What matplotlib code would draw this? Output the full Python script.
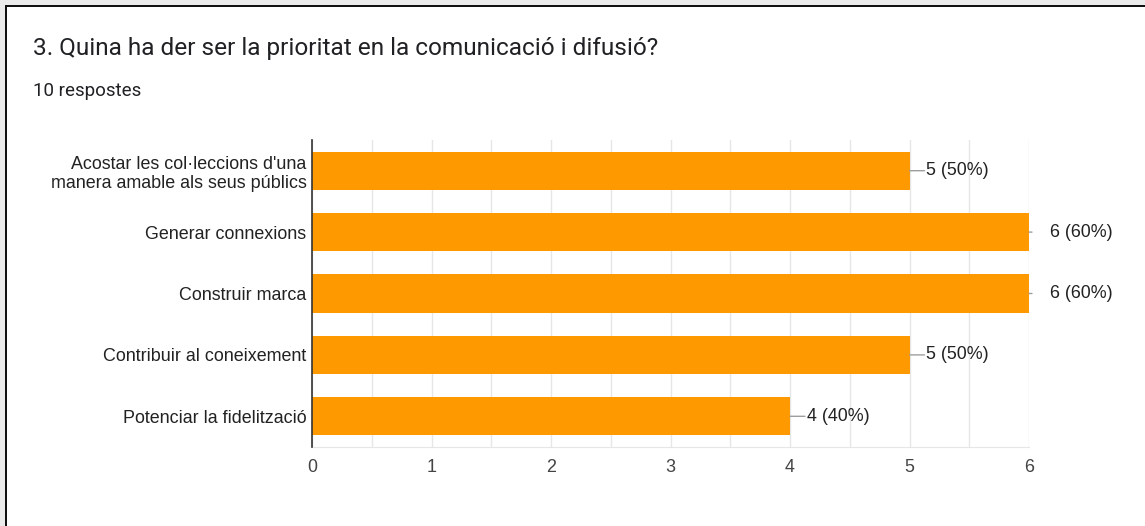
import matplotlib.pyplot as plt
from matplotlib.patches import Rectangle

# Respostes a la pregunta 3 (10 respostes en total)
categories = [
    "Acostar les col·leccions d'una\nmanera amable als seus públics",
    "Generar connexions",
    "Construir marca",
    "Contribuir al coneixement",
    "Potenciar la fidelització",
]
counts = [5, 6, 6, 5, 4]
total = 10
xticks = [0, 1, 2, 3, 4, 5, 6]

W, H = 1145, 526
fig = plt.figure(figsize=(W / 100, H / 100), dpi=100)
fig.patch.set_facecolor('white')

# marc de la captura: franja grisa i línia fosca a dalt i a l'esquerra
fig.patches.append(Rectangle((0, 1 - 5 / H), 1, 5 / H, transform=fig.transFigure,
                             facecolor='#ebebeb', edgecolor='none', zorder=0))
fig.patches.append(Rectangle((0, 0), 5 / W, 1, transform=fig.transFigure,
                             facecolor='#ebebeb', edgecolor='none', zorder=0))
fig.patches.append(Rectangle((5 / W, 1 - 7 / H), 1, 2 / H, transform=fig.transFigure,
                             facecolor='#111111', edgecolor='none', zorder=1))
fig.patches.append(Rectangle((5 / W, 0), 2 / W, 1 - 5 / H, transform=fig.transFigure,
                             facecolor='#111111', edgecolor='none', zorder=1))

fig.text(33 / W, 1 - 48 / H, "3. Quina ha der ser la prioritat en la comunicació i difusió?",
         fontsize=17.6, family='Roboto', color='#202124', va='center', ha='left')
fig.text(33 / W, 1 - 91 / H, "10 respostes", fontsize=13.5, family='Roboto',
         color='#202124', va='center', ha='left')

ax = fig.add_axes([312 / W, 1 - 447 / H, (1029 - 312) / W, (447 - 140) / H])
ypos = list(range(len(categories)))
ax.barh(ypos, counts, height=0.62, color='#ff9900', zorder=3)
ax.set_ylim(len(categories) - 0.5, -0.5)
ax.set_xlim(0, 6)

ax.set_yticks(ypos)
ax.set_yticklabels(categories, fontsize=12.9, family='Liberation Sans', color='#222222',
                   linespacing=1.2)
ax.set_xticks(xticks)
ax.set_xticklabels([str(t) for t in xticks], fontsize=12.9, family='Liberation Sans',
                   color='#444444')
ax.set_xticks([t + 0.5 for t in xticks[:-1]], minor=True)
ax.tick_params(axis='both', which='both', length=0)
ax.tick_params(axis='y', pad=4)
ax.tick_params(axis='x', pad=9)

ax.grid(axis='x', which='both', color='#e6e6e6', linewidth=1, zorder=0)
for side in ['top', 'right']:
    ax.spines[side].set_visible(False)
ax.spines['bottom'].set_color('#e6e6e6')
ax.spines['left'].set_color('#333333')
ax.spines['left'].set_linewidth(1.2)
ax.spines['left'].set_zorder(4)

# etiquetes de valor amb línia guia
for y, c in zip(ypos, counts):
    label = f"{c} ({round(100 * c / total)}%)"
    if c < max(xticks):
        lead, gap = 15, 2
    else:
        lead, gap = 3, 18
    ax.annotate('', xy=(c, y), xytext=(lead, 0), textcoords='offset pixels',
                arrowprops=dict(arrowstyle='-', color='#9e9e9e', lw=1,
                                shrinkA=0, shrinkB=0),
                annotation_clip=False, zorder=5)
    ax.annotate(label, xy=(c, y), xytext=(lead + gap, 0), textcoords='offset pixels',
                ha='left', va='center', fontsize=12.9, family='Liberation Sans',
                color='#222222', annotation_clip=False)

fig.savefig('out.png', dpi=100)
